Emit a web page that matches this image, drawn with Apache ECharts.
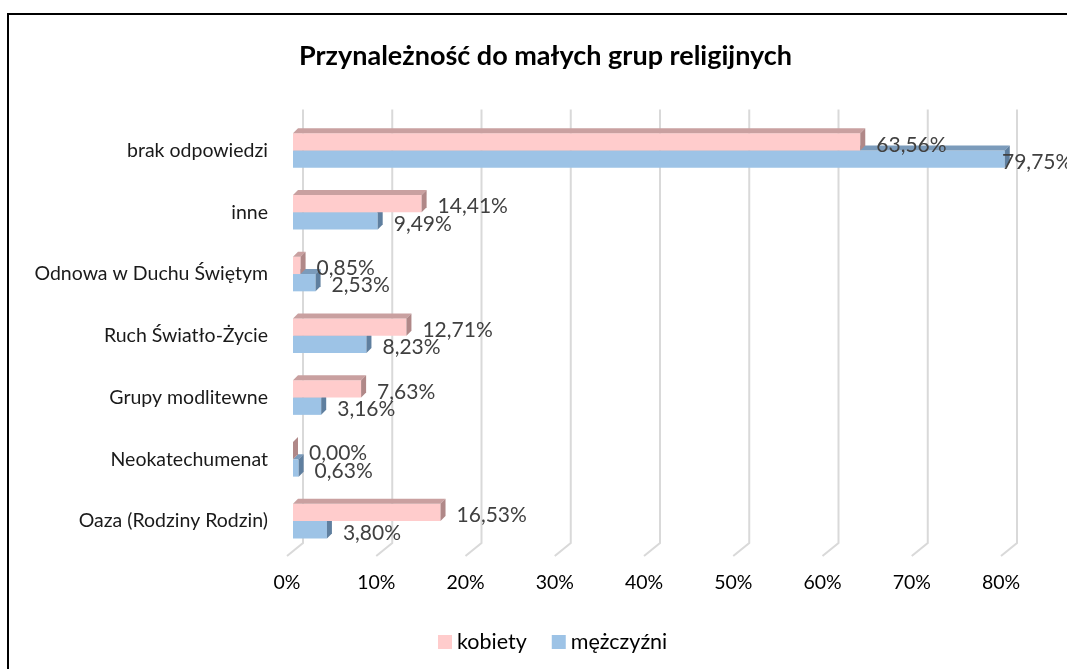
<!DOCTYPE html>
<html>
<head>
<meta charset="utf-8">
<script src="https://cdn.jsdelivr.net/npm/echarts@6/dist/echarts.min.js"></script>
<style>
  html, body { margin: 0; padding: 0; background: #fff; }
  #chart { width: 1067px; height: 669px; }
</style>
</head>
<body>
<div id="chart"></div>
<script>
// data (values in %)
const categories = ['brak odpowiedzi', 'inne', 'Odnowa w Duchu Świętym', 'Ruch Światło-Życie',
    'Grupy modlitewne', 'Neokatechumenat', 'Oaza (Rodziny Rodzin)'];
const kobiety = [63.56, 14.41, 0.85, 12.71, 7.63, 0.00, 16.53];
const mezczyzni = [79.75, 9.49, 2.53, 8.23, 3.16, 0.63, 3.80];
const ticks = [0, 10, 20, 30, 40, 50, 60, 70, 80];

const FONT = 'Lato, "Open Sans", sans-serif';
const DEPTH = 5;

function pct(v) {
    return v.toFixed(2).replace('.', ',') + '%';
}

// draws one bar with a little fake 3D top and side face
function barRenderer(upper, front, top, side) {
    return function (params, api) {
        const v = api.value(0);
        const c = api.value(1);
        const p0 = api.coord([0, c]);
        const p1 = api.coord([v, c]);
        const band = Math.abs(api.size([0, 1])[1]);
        const h = band * 0.28;
        const y0 = upper ? p0[1] - h : p0[1];
        const y1 = y0 + h;
        const x0 = p0[0], x1 = p1[0];
        const cs = params.coordSys;
        const lx = Math.min(x1 + 16, cs.x + cs.width - 5);
        return {
            type: 'group',
            children: [
                { type: 'rect', shape: { x: x0, y: y0, width: x1 - x0, height: h }, style: { fill: front } },
                { type: 'polygon', shape: { points: [[x0, y0], [x1, y0], [x1 + DEPTH, y0 - DEPTH], [x0 + DEPTH, y0 - DEPTH]] }, style: { fill: top } },
                { type: 'polygon', shape: { points: [[x1, y0], [x1 + DEPTH, y0 - DEPTH], [x1 + DEPTH, y1 - DEPTH], [x1, y1]] }, style: { fill: side } },
                { type: 'text', style: { text: pct(v), x: lx, y: (y0 + y1) / 2 + (upper ? 3 : 3), align: 'left', verticalAlign: 'middle', fill: '#404040', font: '21px ' + FONT } }
            ]
        };
    };
}

// back-wall gridlines with the floor diagonal
function gridRenderer(params, api) {
    const cs = params.coordSys;
    const x = api.coord([api.value(0), 0])[0];
    const bottom = cs.y + cs.height;
    return {
        type: 'polyline',
        shape: { points: [[x + 10, cs.y - 10], [x + 10, bottom - 9], [x - 6, bottom + 4]] },
        style: { stroke: '#d9d9d9', lineWidth: 2, fill: null }
    };
}

const chart = echarts.init(document.getElementById('chart'));
const option = {
    animation: false,
    backgroundColor: '#fff',
    textStyle: { fontFamily: FONT },
    title: {
        text: 'Przynależność do małych grup religijnych',
        left: 294,
        top: 38,
        textStyle: { fontSize: 27, fontWeight: 'bold', color: '#000', fontFamily: FONT }
    },
    legend: {
        data: ['kobiety', 'mężczyźni'],
        left: 433,
        top: 626,
        icon: 'rect',
        itemWidth: 14,
        itemHeight: 14,
        itemGap: 25,
        textStyle: { fontSize: 21.5, color: '#000', fontFamily: FONT }
    },
    grid: [
        { left: 293, right: 60, top: 119.6, bottom: 117 },
        { left: 287, right: 66, top: 556, height: 10 }
    ],
    xAxis: [
        { gridIndex: 0, type: 'value', min: 0, max: 80, interval: 10, axisLabel: { show: false },
          axisLine: { show: false }, axisTick: { show: false }, splitLine: { show: false } },
        { gridIndex: 1, type: 'value', min: 0, max: 80, interval: 10,
          axisLabel: { formatter: '{value}%', fontSize: 19.5, color: '#000', margin: 7, fontFamily: FONT },
          axisLine: { show: false }, axisTick: { show: false }, splitLine: { show: false } }
    ],
    yAxis: [
        { gridIndex: 0, type: 'category', data: categories, inverse: true,
          axisLabel: { fontSize: 19.5, color: '#1a1a1a', margin: 25, fontFamily: FONT },
          axisLine: { show: false }, axisTick: { show: false } },
        { gridIndex: 1, type: 'value', show: false }
    ],
    series: [
        {
            name: 'grid', type: 'custom', xAxisIndex: 0, yAxisIndex: 0, z: 1, silent: true,
            data: ticks.map(t => [t, 0]),
            renderItem: gridRenderer
        },
        {
            name: 'mężczyźni', type: 'custom', xAxisIndex: 0, yAxisIndex: 0, z: 2,
            itemStyle: { color: '#9dc3e6' },
            encode: { x: 0, y: 1 },
            data: mezczyzni.map((v, i) => [v, i]),
            renderItem: barRenderer(false, '#9dc3e6', '#7b9bbb', '#5f7f9f')
        },
        {
            name: 'kobiety', type: 'custom', xAxisIndex: 0, yAxisIndex: 0, z: 3,
            itemStyle: { color: '#ffcccc' },
            encode: { x: 0, y: 1 },
            data: kobiety.map((v, i) => [v, i]),
            renderItem: barRenderer(true, '#ffcccc', '#c9a0a0', '#b08888')
        }
    ],
    graphic: [
        { type: 'rect', shape: { x: 8, y: 14, width: 1080, height: 680 },
          style: { fill: null, stroke: '#000', lineWidth: 2 }, silent: true }
    ]
};
chart.setOption(option);
</script>
</body>
</html>
